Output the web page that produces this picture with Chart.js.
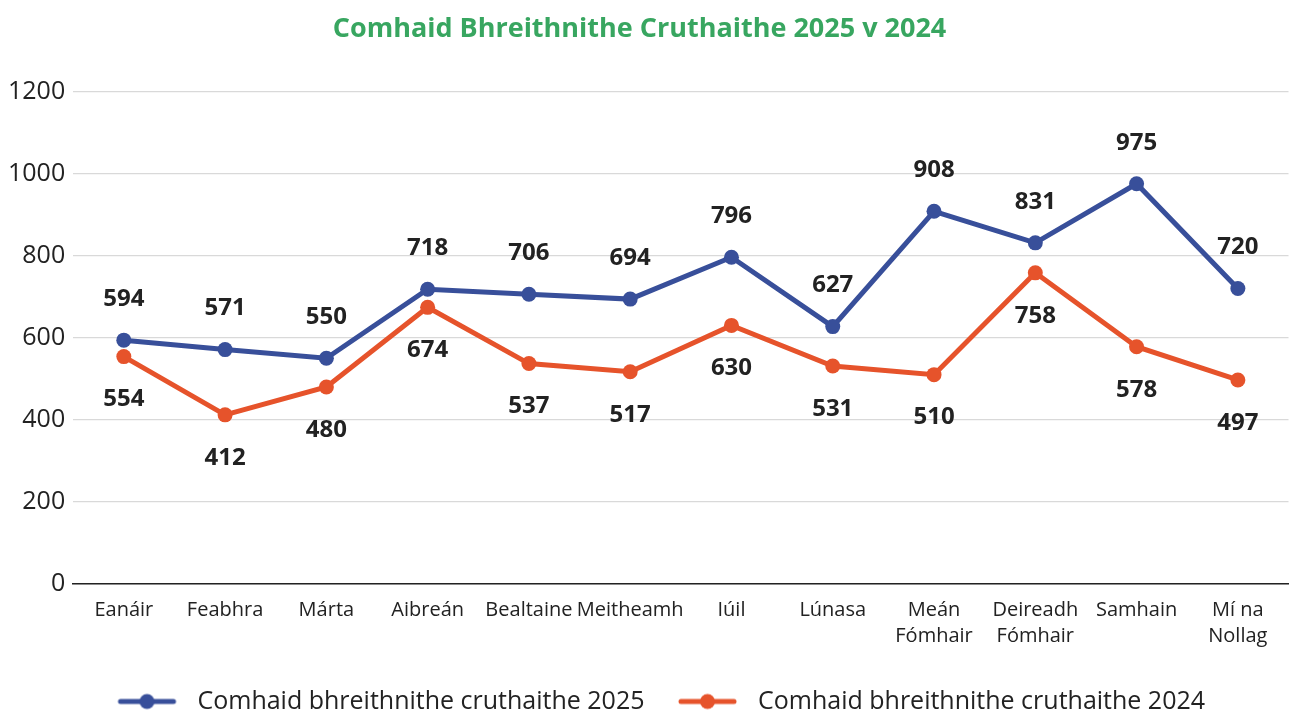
<!DOCTYPE html>
<html>
<head>
<meta charset="utf-8">
<script src="https://cdn.jsdelivr.net/npm/chart.js@4.4.1/dist/chart.umd.min.js"></script>
<style>
  html, body { margin: 0; padding: 0; background: #ffffff; }
  #wrap { width: 1296px; height: 713px; position: relative; }
</style>
</head>
<body>
<div id="wrap"><canvas id="c" width="1296" height="713"></canvas></div>
<script>
const categories = ["Eanáir", "Feabhra", "Márta", "Aibreán", "Bealtaine", "Meitheamh", "Iúil", "Lúnasa", ["Meán", "Fómhair"], ["Deireadh", "Fómhair"], "Samhain", ["Mí na", "Nollag"]];
const values2025 = [594, 571, 550, 718, 706, 694, 796, 627, 908, 831, 975, 720];
const values2024 = [554, 412, 480, 674, 537, 517, 630, 531, 510, 758, 578, 497];
const seriesNames = ["Comhaid bhreithnithe cruthaithe 2025", "Comhaid bhreithnithe cruthaithe 2024"];
const titleText = "Comhaid Bhreithnithe Cruthaithe 2025 v 2024";
const yTicks = [0, 200, 400, 600, 800, 1000, 1200];

const BLUE = "#384f9a";
const ORANGE = "#e6532b";
const FONT = "'Open Sans', 'Noto Sans', sans-serif";

function legendMarker(color) {
  const cv = document.createElement("canvas");
  cv.width = 80; cv.height = 20;
  const g = cv.getContext("2d");
  g.strokeStyle = color; g.lineWidth = 5; g.lineCap = "round";
  g.beginPath(); g.moveTo(7, 10); g.lineTo(60, 10); g.stroke();
  g.fillStyle = color;
  g.beginPath(); g.arc(33.5, 10, 7.5, 0, Math.PI * 2); g.fill();
  return cv;
}
const markers = [legendMarker(BLUE), legendMarker(ORANGE)];

const labelPlugin = {
  id: "valueLabels",
  afterLayout(chart) {
    if (chart.legend) {
      chart.legend.left += 19; chart.legend.right += 19;
      chart.legend.top -= 11; chart.legend.bottom -= 11;
    }
    if (chart.titleBlock) { chart.titleBlock.left -= 5; chart.titleBlock.right -= 5; }
  },
  afterDatasetsDraw(chart) {
    const ctx = chart.ctx;
    ctx.save();
    ctx.font = "bold 24px " + FONT;
    ctx.fillStyle = "#222222";
    ctx.textAlign = "center";
    ctx.textBaseline = "middle";
    chart.data.datasets.forEach((ds, di) => {
      const meta = chart.getDatasetMeta(di);
      meta.data.forEach((pt, i) => {
        const off = di === 0 ? -41 : 43;
        ctx.fillText(String(ds.data[i]), pt.x, pt.y + off);
      });
    });
    ctx.restore();
  }
};

new Chart(document.getElementById("c"), {
  type: "line",
  data: {
    labels: categories,
    datasets: [
      { label: seriesNames[0], data: values2025, borderColor: BLUE, backgroundColor: BLUE,
        borderWidth: 5, pointRadius: 7.5, pointHoverRadius: 7.5, pointBackgroundColor: BLUE, pointBorderWidth: 0, tension: 0 },
      { label: seriesNames[1], data: values2024, borderColor: ORANGE, backgroundColor: ORANGE,
        borderWidth: 5, pointRadius: 7.5, pointHoverRadius: 7.5, pointBackgroundColor: ORANGE, pointBorderWidth: 0, tension: 0 }
    ]
  },
  options: {
    responsive: false,
    animation: false,
    devicePixelRatio: 1,
    layout: { padding: { left: 0, right: 7, top: 0, bottom: -22 } },
    plugins: {
      title: {
        display: true, text: titleText, color: "#38a660",
        font: { family: FONT, size: 27, weight: "bold" },
        padding: { top: 13, bottom: 46 }
      },
      legend: {
        position: "bottom",
        labels: {
          usePointStyle: true,
          pointStyleWidth: 63,
          color: "#222222",
          font: { family: FONT, size: 25 },
          padding: 38,
          generateLabels(chart) {
            return chart.data.datasets.map((ds, i) => ({
              text: ds.label, pointStyle: markers[i], fillStyle: ds.borderColor,
              strokeStyle: ds.borderColor, lineWidth: 0, hidden: false, datasetIndex: i, fontColor: "#222222"
            }));
          }
        }
      },
      tooltip: { enabled: false }
    },
    scales: {
      x: {
        offset: true,
        grid: { display: false, drawTicks: false },
        border: { display: true, color: "#222222", width: 1.5 },
        ticks: { color: "#222222", font: { family: FONT, size: 20, lineHeight: 1.3 }, maxRotation: 0, autoSkip: false, padding: 13 }
      },
      y: {
        min: 0, max: 1200,
        afterBuildTicks(axis) { axis.ticks = yTicks.map(v => ({ value: v })); },
        grid: { color: "#d9d9d9", lineWidth: 1.2, drawTicks: false },
        border: { display: false },
        ticks: { color: "#222222", font: { family: FONT, size: 25 }, padding: 8, callback: v => String(v) }
      }
    }
  },
  plugins: [labelPlugin]
});
</script>
</body>
</html>
